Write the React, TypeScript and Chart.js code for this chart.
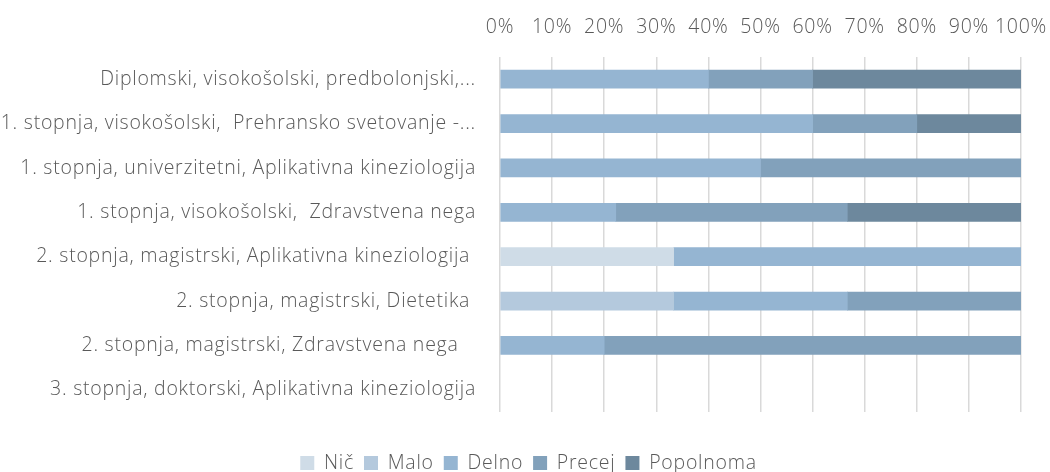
import React, { useEffect, useRef } from "react";
import { Chart, registerables } from "chart.js";

Chart.register(...registerables);

const categories = [
  "Diplomski, visokošolski, predbolonjski,...",
  "1. stopnja, visokošolski,  Prehransko svetovanje -...",
  "1. stopnja, univerzitetni, Aplikativna kineziologija",
  "1. stopnja, visokošolski,  Zdravstvena nega",
  "2. stopnja, magistrski, Aplikativna kineziologija ",
  "2. stopnja, magistrski, Dietetika ",
  "2. stopnja, magistrski, Zdravstvena nega   ",
  "3. stopnja, doktorski, Aplikativna kineziologija",
];

const seriesNames = ["Nič", "Malo", "Delno", "Precej", "Popolnoma"];
const seriesColors = ["#CFDCE7", "#B4C9DD", "#95B5D2", "#82A1BB", "#6D889D"];

const nic = [0, 0, 0, 0, 33.33, 0, 0, 0];
const malo = [0, 0, 0, 0, 0, 33.33, 0, 0];
const delno = [40, 60, 50, 22.22, 66.67, 33.33, 20, 0];
const precej = [20, 20, 50, 44.44, 0, 33.34, 80, 0];
const popolnoma = [40, 20, 0, 33.34, 0, 0, 0, 0];

const xTicks = [0, 10, 20, 30, 40, 50, 60, 70, 80, 90, 100];

const SPACING = "0.75px";
const spacingPlugin = {
  id: "letterSpacing",
  beforeUpdate(c: any) {
    c.ctx.letterSpacing = SPACING;
  },
  beforeLayout(c: any) {
    c.ctx.letterSpacing = SPACING;
  },
  afterLayout(c: any) {
    if (c.legend) {
      c.legend.left += 18;
      c.legend.right += 18;
    }
  },
  beforeDraw(c: any) {
    c.ctx.letterSpacing = SPACING;
  },
};

export default function App() {
  const ref = useRef<HTMLCanvasElement | null>(null);
  useEffect(() => {
    if (!ref.current) return;
    const values = [nic, malo, delno, precej, popolnoma];
    const font = { family: "'Open Sans', sans-serif", size: 19.5, weight: 300 as any };
    const chart = new Chart(ref.current, {
      type: "bar",
      plugins: [spacingPlugin],
      data: {
        labels: categories,
        datasets: seriesNames.map((n, i) => ({
          label: n,
          data: values[i].map((v) => (v === 0 ? null : v)),
          backgroundColor: seriesColors[i],
          borderWidth: 0,
          barThickness: 18,
        })),
      },
      options: {
        indexAxis: "y",
        animation: false,
        responsive: false,
        maintainAspectRatio: false,
        layout: { autoPadding: false, padding: { left: 0, right: 29, top: 0, bottom: 0 } },
        plugins: {
          legend: {
            position: "bottom",
            maxHeight: 60,
            title: { display: true, text: "", font: { size: 10 }, padding: 9.625 },
            labels: {
              font: { family: "'Open Sans', sans-serif", size: 19.5, weight: 300 as any },
              color: "#595959",
              boxWidth: 14,
              boxHeight: 14,
              padding: 10,
            },
          },
          tooltip: { enabled: false },
        },
        scales: {
          x: {
            position: "top",
            stacked: true,
            min: 0,
            max: 100,
            afterBuildTicks: (s: any) => {
              s.ticks = xTicks.map((v) => ({ value: v }));
            },
            afterFit: (s: any) => {
              s.height = 57;
              s.paddingLeft = 0;
              s.paddingRight = 0;
            },
            ticks: {
              callback: (v: any) => v + "%",
              font,
              color: "#595959",
              padding: 18.3,
              maxRotation: 0,
              autoSkip: false,
            },
            grid: { color: "#D9D9D9", lineWidth: 1.5, drawTicks: false },
            border: { display: false },
          },
          y: {
            stacked: true,
            afterFit: (s: any) => {
              s.width = 500;
              s.paddingTop = 0;
              s.paddingBottom = 0;
            },
            ticks: { font, color: "#595959", padding: 24, autoSkip: false },
            grid: { display: false, drawTicks: false },
            border: { display: false },
          },
        },
      },
    });
    return () => chart.destroy();
  }, []);
  return (
    <div style={{ position: "absolute", left: 0, top: 0, width: 1050, height: 472 }}>
      <canvas ref={ref} width={1050} height={472} />
    </div>
  );
}
